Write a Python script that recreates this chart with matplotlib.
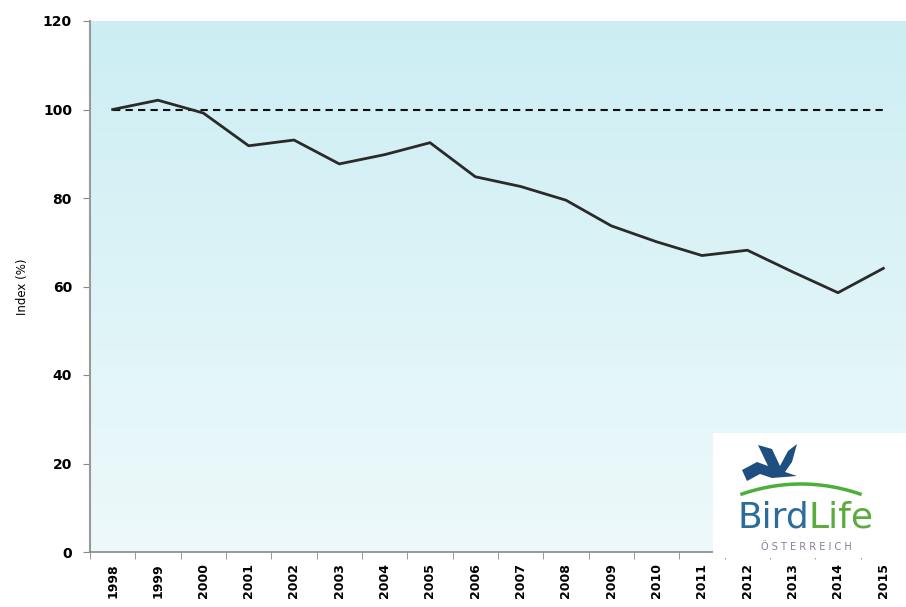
import matplotlib
matplotlib.use("Agg")
import matplotlib.pyplot as plt
import numpy as np
from matplotlib.patches import Rectangle, Polygon

# data
years = ["1998", "1999", "2000", "2001", "2002", "2003", "2004", "2005", "2006",
         "2007", "2008", "2009", "2010", "2011", "2012", "2013", "2014", "2015"]
index_values = [100.0, 102.1, 99.2, 91.8, 93.1, 87.7, 89.8, 92.5, 84.8,
                82.6, 79.5, 73.7, 70.1, 67.0, 68.2, 63.3, 58.6, 64.1]
baseline = 100
y_ticks = [0, 20, 40, 60, 80, 100, 120]

fig = plt.figure(figsize=(9.06, 6.07), dpi=100)
ax = fig.add_axes([90 / 906, 1 - 552 / 607, 816 / 906, 531 / 607])

x = np.arange(len(years))
ax.set_xlim(-0.5, len(years) - 0.5)
ax.set_ylim(0, 120)

# light blue gradient background of the plot area
top = np.array([204, 238, 243]) / 255
bottom = np.array([238, 249, 251]) / 255
grad = np.linspace(0, 1, 256)[:, None]
img = top[None, None, :] * (1 - grad[:, :, None]) + bottom[None, None, :] * grad[:, :, None]
ax.imshow(img, extent=[-0.5, len(years) - 0.5, 0, 120], aspect="auto", zorder=0)

# dashed 100 % reference line and the index line
ax.plot([x[0], x[-1]], [baseline, baseline], color="#111111", lw=1.5,
        ls=(0, (3.5, 2.5)), zorder=2)
ax.plot(x, index_values, color="#2a2a2a", lw=2, zorder=3)

ax.set_yticks(y_ticks)
ax.set_yticklabels([str(v) for v in y_ticks], fontsize=10, fontweight="bold")
ax.set_xticks(x)
ax.set_xticklabels(years, rotation=90, fontsize=9, fontweight="bold")
ax.set_xticks(np.arange(-0.5, len(years), 1), minor=True)
ax.tick_params(axis="x", which="major", length=0, pad=8)
ax.tick_params(axis="x", which="minor", length=5, color="#888888")
ax.tick_params(axis="y", length=5, color="#888888", pad=8)
ax.set_ylabel("Index (%)", fontsize=8.5, labelpad=10)

for side in ["top", "right"]:
    ax.spines[side].set_visible(False)
ax.spines["left"].set_color("#999999")
ax.spines["bottom"].set_color("#888888")
ax.spines["left"].set_linewidth(1.5)
ax.spines["bottom"].set_linewidth(1.2)

# BirdLife logo in a white box at the bottom right
W, H = 906, 607
def fx(px):
    return px / W
def fy(py):
    return 1 - py / H

fig.patches.append(Rectangle((fx(713), fy(558)), fx(906) - fx(713), fy(433) - fy(558),
                             transform=fig.transFigure, facecolor="white",
                             edgecolor="none", zorder=10))
bird_pts = [(742, 470), (757, 462), (768, 466), (758, 445), (772, 449), (780, 466),
            (788, 451), (797, 444), (792, 462), (785, 472), (797, 476),
            (772, 478), (760, 474), (747, 481)]
fig.patches.append(Polygon([(fx(a), fy(b)) for a, b in bird_pts], closed=True,
                           transform=fig.transFigure, facecolor="#1f4f80",
                           edgecolor="none", zorder=11))
arc_x = np.linspace(742, 860, 60)
arc_y = 494 - 10 * (1 - ((arc_x - 801) / 59) ** 2)
fig.lines.append(plt.Line2D([fx(a) for a in arc_x], [fy(b) for b in arc_y],
                            transform=fig.transFigure, color="#4caf3a", lw=2.5,
                            zorder=11))
fig.text(fx(809), fy(517), "Bird", color="#2b6c9b", fontsize=26,
         ha="right", va="center", zorder=12, family="DejaVu Sans")
fig.text(fx(809), fy(517), "Life", color="#5aac3c", fontsize=26,
         ha="left", va="center", zorder=12, family="DejaVu Sans")
fig.text(fx(806), fy(547), "Ö S T E R R E I C H", color="#8a7a9a", fontsize=7,
         ha="center", va="center", zorder=12)

fig.savefig("out.png", dpi=100)
